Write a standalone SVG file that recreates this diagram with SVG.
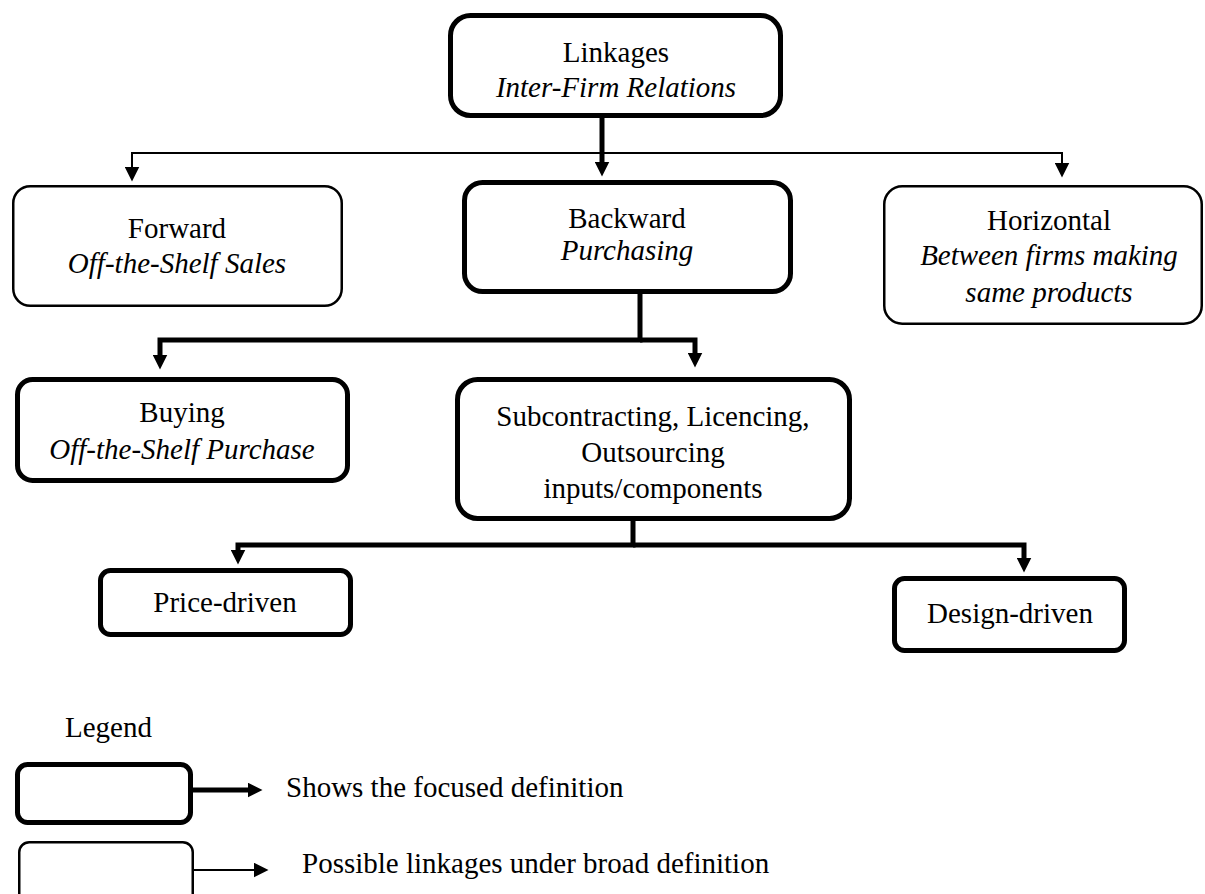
<svg xmlns="http://www.w3.org/2000/svg" width="1205" height="894" viewBox="0 0 1205 894">
  <style>
    text { font-family: "Liberation Serif", "Times New Roman", serif; font-size: 29px; fill: #000; text-anchor: middle; }
    .it { font-style: italic; }
    .lg { text-anchor: start; }
    .box-thick { fill: #fff; stroke: #000; stroke-width: 5; }
    .box-thin { fill: #fff; stroke: #000; stroke-width: 2.5; }
    .con-thick { fill: none; stroke: #000; stroke-width: 5; stroke-linejoin: miter; }
    .con-thin { fill: none; stroke: #000; stroke-width: 2; stroke-linejoin: miter; }
  </style>
  <defs>
    <marker id="ah" viewBox="0 0 15 15" refX="0.5" refY="7.5" markerWidth="15" markerHeight="15" markerUnits="userSpaceOnUse" orient="auto">
      <path d="M0,0 L15,7.5 L0,15 z" fill="#000"/>
    </marker>
  </defs>

  <rect width="1205" height="894" fill="#fff"/>

  <!-- connectors -->
  <g id="connectors">
    <!-- Linkages -> Backward (focused) -->
    <path class="con-thick" d="M602,118 V162" marker-end="url(#ah)"/>
    <!-- Linkages -> Forward / Horizontal (broad) -->
    <path class="con-thin" d="M602,153 H132 V167" marker-end="url(#ah)"/>
    <path class="con-thin" d="M602,153 H1062 V163" marker-end="url(#ah)"/>
    <!-- Backward -> Buying / Subcontracting -->
    <path class="con-thick" d="M640,294 V340 H160 V355" marker-end="url(#ah)"/>
    <path class="con-thick" d="M640,340 H695 V353" marker-end="url(#ah)"/>
    <!-- Subcontracting -> Price-driven / Design-driven -->
    <path class="con-thick" d="M633,521 V545 H238 V550" marker-end="url(#ah)"/>
    <path class="con-thick" d="M633,545 H1024 V558" marker-end="url(#ah)"/>
    <!-- legend arrows -->
    <path class="con-thick" d="M193,790 H248" marker-end="url(#ah)"/>
    <path class="con-thin" d="M193,870 H254" marker-end="url(#ah)"/>
  </g>

  <!-- nodes -->
  <g id="linkages">
    <rect class="box-thick" x="450.5" y="15.5" width="330" height="100" rx="20"/>
    <text x="616" y="62">Linkages</text>
    <text class="it" x="616" y="97">Inter-Firm Relations</text>
  </g>

  <g id="forward">
    <rect class="box-thin" x="13.25" y="186.25" width="328.5" height="119.5" rx="17"/>
    <text x="177" y="238">Forward</text>
    <text class="it" x="177" y="273">Off-the-Shelf Sales</text>
  </g>

  <g id="backward">
    <rect class="box-thick" x="464.5" y="182.5" width="326" height="109" rx="18"/>
    <text x="627" y="228">Backward</text>
    <text class="it" x="627" y="260">Purchasing</text>
  </g>

  <g id="horizontal">
    <rect class="box-thin" x="884.25" y="186.25" width="317.5" height="137.5" rx="18"/>
    <text x="1049" y="230">Horizontal</text>
    <text class="it" x="1049" y="265">Between firms making</text>
    <text class="it" x="1049" y="302">same products</text>
  </g>

  <g id="buying">
    <rect class="box-thick" x="17.5" y="379.5" width="330" height="101" rx="15"/>
    <text x="182" y="422">Buying</text>
    <text class="it" x="182" y="459">Off-the-Shelf Purchase</text>
  </g>

  <g id="subcontracting">
    <rect class="box-thick" x="457.5" y="379.5" width="392" height="139" rx="20"/>
    <text x="653" y="426">Subcontracting, Licencing,</text>
    <text x="653" y="462">Outsourcing</text>
    <text x="653" y="498">inputs/components</text>
  </g>

  <g id="price-driven">
    <rect class="box-thick" x="100.5" y="570.5" width="250" height="64" rx="10"/>
    <text x="225" y="612">Price-driven</text>
  </g>

  <g id="design-driven">
    <rect class="box-thick" x="894.5" y="578.5" width="230" height="72" rx="10"/>
    <text x="1010" y="623">Design-driven</text>
  </g>

  <!-- legend -->
  <g id="legend">
    <text class="lg" x="65" y="737">Legend</text>
    <rect class="box-thick" x="17.5" y="764.5" width="173" height="58" rx="10"/>
    <text class="lg" x="286" y="797">Shows the focused definition</text>
    <rect class="box-thin" x="19.25" y="842.25" width="173.5" height="70" rx="10"/>
    <text class="lg" x="302" y="873">Possible linkages under broad definition</text>
  </g>
</svg>
